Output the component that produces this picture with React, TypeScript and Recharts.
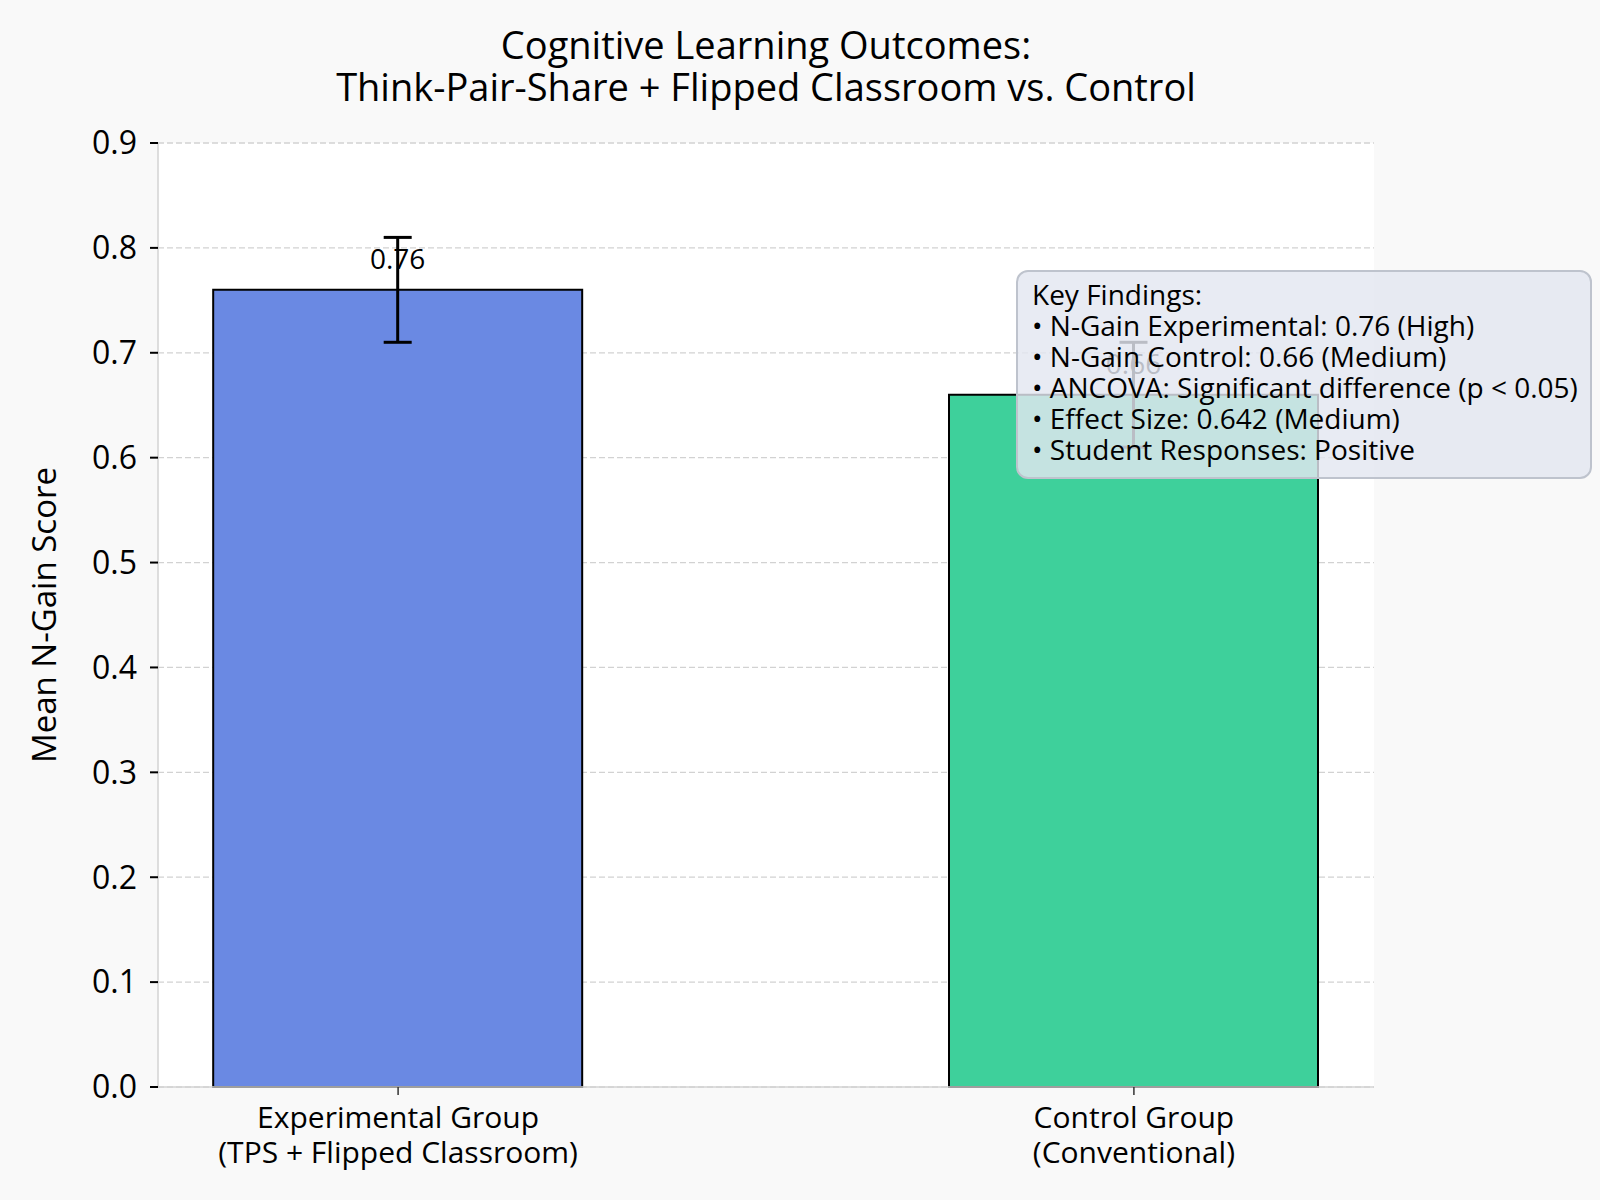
import React from 'react';
import { BarChart, Bar, XAxis, YAxis, CartesianGrid, ErrorBar, Cell, LabelList, Label } from 'recharts';

const groupPositions = [0, 1];
const groupLine1 = ['Experimental Group', 'Control Group'];
const groupLine2 = ['(TPS + Flipped Classroom)', '(Conventional)'];
const meanNGain = [0.76, 0.66];
const nGainError = [0.05, 0.05];
const barColors = ['#6A89E3', '#3ED09B'];
const yTicks = [0, 0.1, 0.2, 0.3, 0.4, 0.5, 0.6, 0.7, 0.8, 0.9];
const titleLines = ['Cognitive Learning Outcomes:', 'Think-Pair-Share + Flipped Classroom vs. Control'];
const findingsLines = [
  'Key Findings:',
  '• N-Gain Experimental: 0.76 (High)',
  '• N-Gain Control: 0.66 (Medium)',
  '• ANCOVA: Significant difference (p < 0.05)',
  '• Effect Size: 0.642 (Medium)',
  '• Student Responses: Positive',
];

const data = groupPositions.map((x, i) => ({ x, mean: meanNGain[i], err: nGainError[i] }));

const FONT = "'Open Sans', sans-serif";

const XTick = (props: any) => {
  const { x, y, payload } = props;
  const i = groupPositions.indexOf(payload.value);
  if (i < 0) return null;
  return (
    <text x={x} y={y} textAnchor="middle" fontSize={30} fill="#000" fontFamily={FONT}>
      <tspan x={x} dy={31}>{groupLine1[i]}</tspan>
      <tspan x={x} dy={35}>{groupLine2[i]}</tspan>
    </text>
  );
};

const ValueLabel = (props: any) => {
  const { x, y, width, value } = props;
  return (
    <text x={x + width / 2} y={y - 21} textAnchor="middle" fontSize={28} fill="#000" fontFamily={FONT}>
      {Number(value).toFixed(2)}
    </text>
  );
};

export default function App() {
  return (
    <div
      style={{
        position: 'absolute',
        left: 0,
        top: 0,
        width: 1600,
        height: 1200,
        background: '#f9f9f9',
        fontFamily: FONT,
      }}
    >
      <BarChart
        width={1600}
        height={1200}
        data={data}
        margin={{ top: 143, right: 226, bottom: 13, left: 48 }}
      >
        <CartesianGrid
          vertical={false}
          stroke="#d2d2d2"
          strokeWidth={1.3}
          strokeDasharray="6 3"
          fill="#ffffff"
        />
        <XAxis
          type="number"
          dataKey="x"
          domain={[-0.3263, 1.3263]}
          ticks={groupPositions}
          height={100}
          tick={<XTick />}
          tickSize={8}
          tickMargin={2}
          tickLine={{ stroke: '#333', strokeWidth: 1.5 }}
          axisLine={{ stroke: '#d3d3d3', strokeWidth: 1.5 }}
          interval={0}
        />
        <YAxis
          type="number"
          domain={[0, 0.9]}
          ticks={yTicks}
          width={110}
          tickFormatter={(v: number) => v.toFixed(1)}
          tick={{ fill: '#000', fontSize: 32, fontFamily: FONT }}
          tickSize={8}
          tickMargin={13}
          tickLine={{ stroke: '#000', strokeWidth: 2 }}
          axisLine={{ stroke: '#d3d3d3', strokeWidth: 1.5 }}
          interval={0}
        >
          <Label
            value="Mean N-Gain Score"
            angle={-90}
            position="insideLeft"
            offset={-4}
            style={{ textAnchor: 'middle', fontSize: 33, fill: '#000', fontFamily: FONT }}
          />
        </YAxis>
        <Bar dataKey="mean" barSize={369} stroke="#000" strokeWidth={2} isAnimationActive={false}>
          {data.map((d, i) => (
            <Cell key={i} fill={barColors[i]} />
          ))}
          <LabelList dataKey="mean" content={<ValueLabel />} />
          <ErrorBar dataKey="err" width={14} strokeWidth={3} stroke="#000" direction="y" isAnimationActive={false} />
        </Bar>
      </BarChart>
      <svg
        width={1600}
        height={1200}
        style={{ position: 'absolute', left: 0, top: 0, pointerEvents: 'none' }}
      >
        {titleLines.map((t, i) => (
          <text key={i} x={766} y={59 + i * 42} textAnchor="middle" fontSize={38} fill="#000" fontFamily={FONT}>
            {t}
          </text>
        ))}
        <rect
          x={1017}
          y={271}
          width={574}
          height={207}
          rx={11}
          ry={11}
          fill="#e3e7f0"
          fillOpacity={0.82}
          stroke="#bec3cd"
          strokeWidth={2}
        />
        {findingsLines.map((t, i) => (
          <text key={i} x={1032} y={305 + i * 30.9} fontSize={28} fill="#000" fontFamily={FONT}>
            {t}
          </text>
        ))}
      </svg>
    </div>
  );
}
